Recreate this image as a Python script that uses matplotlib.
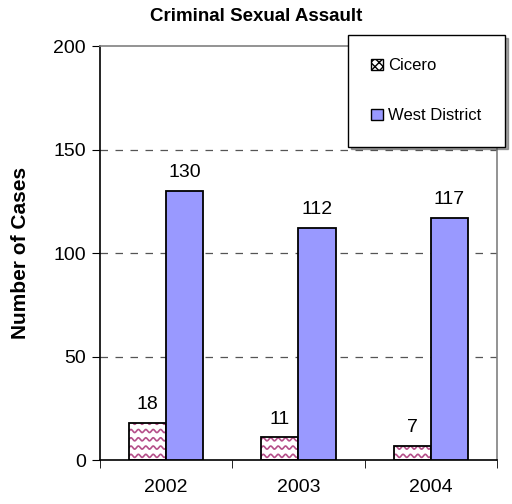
import numpy as np
import matplotlib.pyplot as plt
from matplotlib.patches import Patch

plt.rcParams['font.family'] = ['Liberation Sans', 'DejaVu Sans']
plt.rcParams['hatch.color'] = '#A8437A'

years = ["2002", "2003", "2004"]
cicero = [18, 11, 7]
west = [130, 112, 117]

fig = plt.figure(figsize=(5.12, 5.04), dpi=100)
ax = fig.add_axes([0.1953, 0.0873, 0.7754, 0.8214])

x = np.arange(len(years))
w = 0.28
b1 = ax.bar(x - w / 2, cicero, w, color="white", edgecolor="black", linewidth=1.3, zorder=4)
b2 = ax.bar(x + w / 2, west, w, color="#9999FF", edgecolor="black", linewidth=1.3, zorder=4)

# wavy fill pattern for Cicero bars, clipped to each bar
for rect in b1:
    x0, y0 = rect.get_x(), rect.get_y()
    xs = np.linspace(x0, x0 + rect.get_width(), 200)
    for yy in np.arange(y0 + 2.0, y0 + rect.get_height() + 2, 4.0):
        ln, = ax.plot(xs, yy + 0.75 * np.sin((xs - x0) / 0.056 * 2 * np.pi),
                      color="#B5508A", lw=1.2, zorder=3.5)
        ln.set_clip_path(rect)
    rect.set_facecolor("none")

for bars, vals in [(b1, cicero), (b2, west)]:
    for rect, v in zip(bars, vals):
        ax.annotate(str(v), (rect.get_x() + rect.get_width() / 2, v),
                    xytext=(0, 7), textcoords="offset points",
                    ha="center", va="bottom", fontsize=14)

ax.set_xlim(-0.5, 2.5)
ax.set_ylim(0, 200)
ax.set_yticks([0, 50, 100, 150, 200])
ax.set_xticks(x)
ax.set_xticklabels(years, fontsize=14)
ax.set_xticks([-0.5, 0.5, 1.5, 2.5], minor=True)
ax.tick_params(axis="x", which="major", length=0, pad=14)
ax.tick_params(axis="x", which="minor", length=6, direction="out", color="black")
ax.tick_params(axis="y", length=6, direction="out", labelsize=14, pad=4)

for yv in [50, 100, 150]:
    ax.axhline(yv, color="#555555", lw=0.9, ls=(0, (6, 6)), zorder=1)

ax.spines["left"].set_color("black")
ax.spines["bottom"].set_color("black")
ax.spines["top"].set_color("#808080")
ax.spines["right"].set_color("#808080")
for s in ax.spines.values():
    s.set_linewidth(1.2)

ax.set_ylabel("Number of Cases", fontsize=15, fontweight="bold", labelpad=17)
fig.text(0.5, 0.967, "Criminal Sexual Assault", ha="center", va="center",
         fontsize=13.5, fontweight="bold")

handles = [Patch(facecolor="white", edgecolor="black", hatch="xxxx", label="Cicero"),
           Patch(facecolor="#9999FF", edgecolor="black", label="West District")]
leg = fig.legend(handles=handles, loc="upper left", bbox_to_anchor=(0.680, 0.9306),
                 fontsize=12, frameon=True, fancybox=False, shadow=True,
                 edgecolor="black", handlelength=0.7, handleheight=0.7,
                 handletextpad=0.3, labelspacing=2.1, borderpad=1.4, borderaxespad=0)
leg.get_frame().set_linewidth(1.0)

fig.savefig("out.png", dpi=100)
